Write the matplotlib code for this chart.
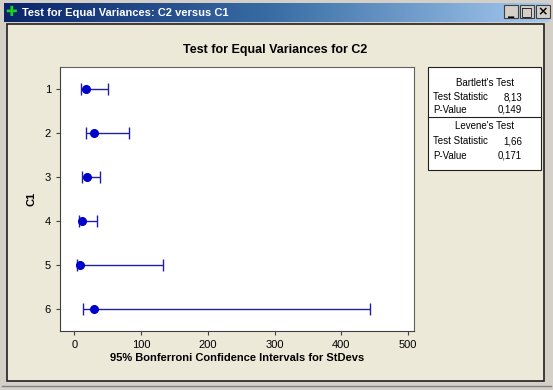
import numpy as np
import matplotlib
matplotlib.use("Agg")
import matplotlib.pyplot as plt
from matplotlib.colors import LinearSegmentedColormap
from matplotlib.patches import Rectangle

plt.rcParams["font.family"] = ["Liberation Sans", "DejaVu Sans"]

# data
groups = ["1", "2", "3", "4", "5", "6"]
lower = [10.5, 17, 12, 7.5, 4.5, 13]
estimate = [17.5, 30, 18.5, 11.5, 8.5, 30]
upper = [51, 81.5, 38.5, 34.5, 133.5, 442.5]
xticks = [0, 100, 200, 300, 400, 500]

bartlett = ["8,13", "0,149"]
levene = ["1,66", "0,171"]

W, H = 553, 390
fig = plt.figure(figsize=(W / 100, H / 100), dpi=100)
fig.patch.set_facecolor("#D4D0C8")

# window chrome, in pixel coords
bg = fig.add_axes([0, 0, 1, 1])
bg.set_xlim(0, W)
bg.set_ylim(H, 0)
bg.axis("off")

grad = np.linspace(0, 1, 256).reshape(1, -1)
cmap = LinearSegmentedColormap.from_list("tb", ["#0A246A", "#3A6EA5", "#A6CAF0"])
bg.imshow(grad, extent=[4, 549, 22, 3], cmap=cmap, aspect="auto", zorder=1)
bg.text(11, 12.5, "\u271a", color="#22CC22", fontsize=10,
        ha="center", va="center", family="DejaVu Sans", zorder=3)
bg.text(22, 12.5, "Test for Equal Variances: C2 versus C1", color="white",
        fontsize=8, fontweight="bold", ha="left", va="center", zorder=3)
for x0, sym in zip([504, 520, 536], ["_", "\u25a1", "\u00d7"]):
    bg.add_patch(Rectangle((x0, 5), 14, 13, facecolor="#D4D0C8",
                           edgecolor="#404040", lw=0.8, zorder=3))
    bg.text(x0 + 7, 11.5, sym, fontsize=9, fontweight="bold", ha="center",
            va="center", family="DejaVu Sans", zorder=4)

bg.add_patch(Rectangle((7, 24), 537, 357, facecolor="#ECE9D8",
                       edgecolor="#202020", lw=1.2, zorder=1))
bg.plot([2, 551], [386, 386], color="#808080", lw=1, zorder=1)

# stats box
bg.add_patch(Rectangle((428, 67), 113, 103, facecolor="white",
                       edgecolor="#202020", lw=0.8, zorder=2))
bg.plot([428, 541], [117, 117], color="#202020", lw=0.8, zorder=3)
fs = 7
va = "baseline"
bg.text(484.5, 86, "Bartlett's Test", fontsize=fs, ha="center", va=va, zorder=3)
bg.text(433, 100, "Test Statistic", fontsize=fs, ha="left", va=va, zorder=3)
bg.text(522, 100, bartlett[0], fontsize=fs, ha="right", va=va, zorder=3)
bg.text(433, 113, "P-Value", fontsize=fs, ha="left", va=va, zorder=3)
bg.text(522, 113, bartlett[1], fontsize=fs, ha="right", va=va, zorder=3)
bg.text(484.5, 129, "Levene's Test", fontsize=fs, ha="center", va=va, zorder=3)
bg.text(433, 144, "Test Statistic", fontsize=fs, ha="left", va=va, zorder=3)
bg.text(522, 144, levene[0], fontsize=fs, ha="right", va=va, zorder=3)
bg.text(433, 159, "P-Value", fontsize=fs, ha="left", va=va, zorder=3)
bg.text(522, 159, levene[1], fontsize=fs, ha="right", va=va, zorder=3)

bg.text(275, 50, "Test for Equal Variances for C2", fontsize=9,
        fontweight="bold", ha="center", va="center", zorder=3)

# the chart itself
ax = fig.add_axes([60 / W, 1 - 331 / H, 354 / W, 264 / H])
ax.set_facecolor("white")
ypos = np.arange(1, len(groups) + 1)
est = np.array(estimate)
xerr = [est - np.array(lower), np.array(upper) - est]
ax.errorbar(est, ypos, xerr=xerr, fmt="none", ecolor="#2020A0",
            elinewidth=1, capsize=4, capthick=1)
ax.plot(est, ypos, "o", color="#0000CC", markersize=5.5)

ax.set_xlim(-21.5, 509)
ax.set_ylim(6.5, 0.5)
ax.set_xticks(xticks)
ax.set_yticks(ypos)
ax.set_yticklabels(groups)
ax.tick_params(labelsize=8, length=3, width=0.8, color="#404040")
for s in ["top", "right"]:
    ax.spines[s].set_color("#606060")
for s in ["left", "bottom"]:
    ax.spines[s].set_color("#404040")
ax.set_xlabel("95% Bonferroni Confidence Intervals for StDevs",
              fontsize=8, fontweight="bold", labelpad=2)
ax.set_ylabel("C1", fontsize=8, fontweight="bold", labelpad=6)

fig.savefig("out.png", dpi=100, facecolor=fig.get_facecolor())
